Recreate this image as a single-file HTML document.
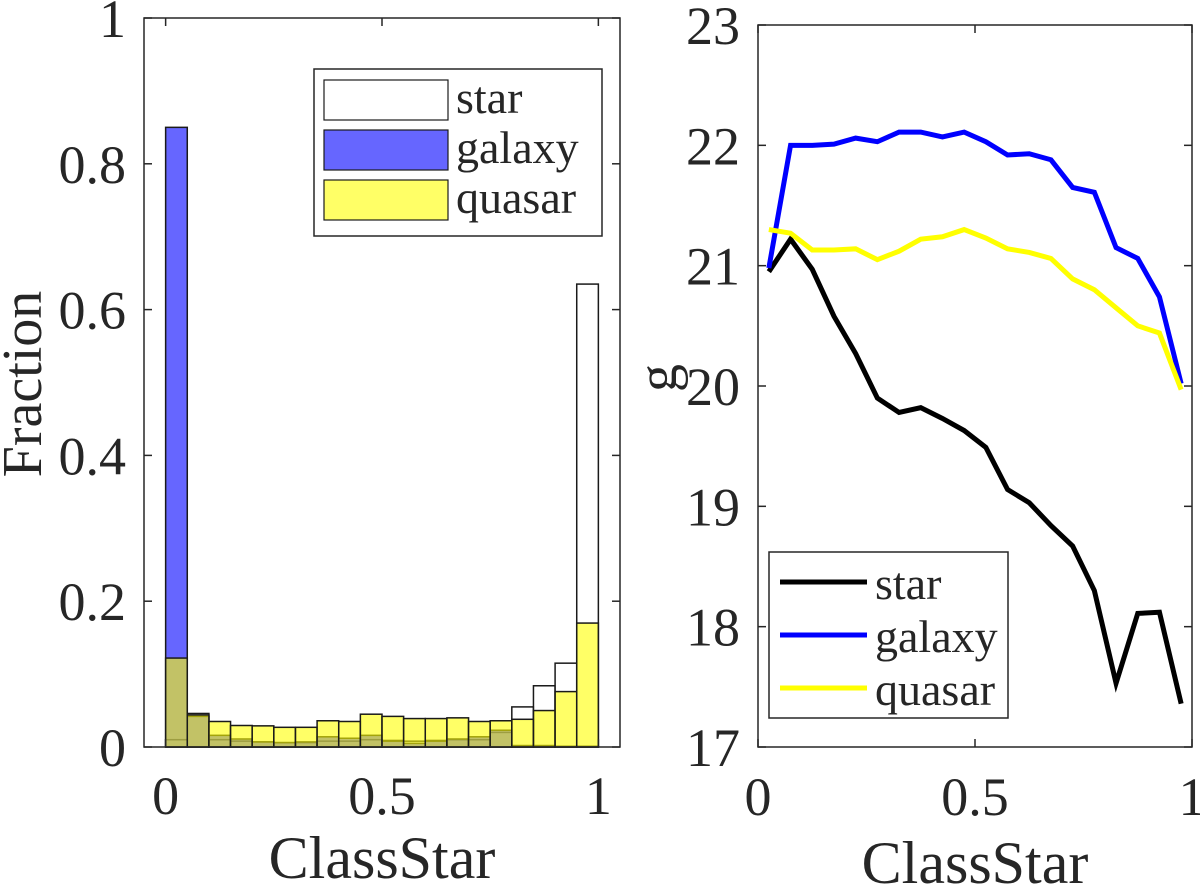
<!DOCTYPE html>
<html><head><meta charset="utf-8"><style>
body{margin:0;background:#fff}
svg text{font-family:"Liberation Serif",serif;fill:#262626}
</style></head><body>
<svg id="c" width="1200" height="889" xmlns="http://www.w3.org/2000/svg"></svg>
<script>
const binStarts=[0,0.05,0.1,0.15,0.2,0.25,0.3,0.35,0.4,0.45,0.5,0.55,0.6,0.65,0.7,0.75,0.8,0.85,0.9,0.95];
const starFrac=[0.01,0.046,0.01,0.008,0.007,0.006,0.006,0.008,0.008,0.01,0.009,0.008,0.009,0.01,0.01,0.02,0.055,0.084,0.115,0.635];
const galaxyFrac=[0.85,0.042,0.016,0.011,0.007,0.006,0.007,0.014,0.012,0.016,0.008,0.005,0.008,0.011,0.014,0.023,0.002,0.002,0.001,0.001];
const quasarFrac=[0.122,0.044,0.035,0.0295,0.029,0.027,0.027,0.036,0.035,0.045,0.042,0.039,0.039,0.040,0.035,0.036,0.038,0.050,0.076,0.170];
const leftYTicks=[0,0.2,0.4,0.6,0.8,1];
const leftYLabels=["0","0.2","0.4","0.6","0.8","1"];
const xTicks=[0,0.5,1];
const xLabels=["0","0.5","1"];
const centers=[0.025,0.075,0.125,0.175,0.225,0.275,0.325,0.375,0.425,0.475,0.525,0.575,0.625,0.675,0.725,0.775,0.825,0.875,0.925,0.975];
const starG=[20.95,21.22,20.97,20.58,20.27,19.9,19.78,19.82,19.73,19.63,19.49,19.14,19.03,18.84,18.67,18.3,17.53,18.11,18.12,17.36];
const galaxyG=[20.98,22.0,22.0,22.01,22.06,22.03,22.11,22.11,22.07,22.11,22.03,21.92,21.93,21.88,21.65,21.61,21.15,21.06,20.74,20.02];
const quasarG=[21.3,21.27,21.13,21.13,21.14,21.05,21.12,21.22,21.24,21.3,21.23,21.14,21.11,21.06,20.89,20.8,20.65,20.5,20.44,19.97];
const rightYTicks=[17,18,19,20,21,22,23];

const svg=document.getElementById('c');
const NS='http://www.w3.org/2000/svg';
function mk(tag,attrs,parent){const e=document.createElementNS(NS,tag);for(const k in attrs)e.setAttribute(k,attrs[k]);(parent||svg).appendChild(e);return e;}
const L={x0:144,x1:620,y0:747,y1:18};
const lx=v=>L.x0+(v+0.05)/1.1*(L.x1-L.x0);
const ly=v=>L.y0-v*(L.y0-L.y1);
const R={x0:758,x1:1192,y0:747,y1:25};
const rx=v=>R.x0+v*(R.x1-R.x0);
const ry=v=>R.y0-(v-17)/6*(R.y0-R.y1);
const FS=54;

const gL=mk('g',{});


function bars(arr,fill,op,name){
  arr.forEach((v,i)=>{
    const x=lx(binStarts[i]),w=lx(binStarts[i]+0.05)-x;
    const r=mk('rect',{x:x,y:ly(v),width:w,height:ly(0)-ly(v),fill:fill,'fill-opacity':op,stroke:'#1a1a1a','stroke-width':1.5},gL);
    
    
  });
}
bars(starFrac,'#ffffff',0.6,'star');
bars(galaxyFrac,'#0000ff',0.6,'galaxy');
bars(quasarFrac,'#ffff00',0.6,'quasar');
mk('rect',{x:L.x0,y:L.y1,width:L.x1-L.x0,height:L.y0-L.y1,fill:'none',stroke:'#262626','stroke-width':1.5},gL);
leftYTicks.forEach((t,i)=>{
  const y=ly(t);
  mk('line',{x1:L.x0,x2:L.x0+8,y1:y,y2:y,stroke:'#262626','stroke-width':1.5},gL);
  mk('line',{x1:L.x1,x2:L.x1-8,y1:y,y2:y,stroke:'#262626','stroke-width':1.5},gL);
  const t2=mk('text',{x:126,y:y+19,'font-size':FS,'text-anchor':'end'},gL);t2.textContent=leftYLabels[i];
  
  
});
xTicks.forEach((t,i)=>{
  const x=lx(t);
  mk('line',{x1:x,x2:x,y1:L.y0,y2:L.y0-8,stroke:'#262626','stroke-width':1.5},gL);
  mk('line',{x1:x,x2:x,y1:L.y1,y2:L.y1+8,stroke:'#262626','stroke-width':1.5},gL);
  const t2=mk('text',{x:x,y:814,'font-size':FS,'text-anchor':'middle'},gL);t2.textContent=xLabels[i];
  
  
});
let tt=mk('text',{x:382,y:878,'font-size':60,'text-anchor':'middle'},gL);tt.textContent='ClassStar';


tt=mk('text',{x:0,y:0,'font-size':56,'text-anchor':'middle',transform:'translate(41,384) rotate(-90)'},gL);tt.textContent='Fraction';


const lg=mk('g',{},gL);


mk('rect',{x:314,y:69,width:288,height:167,fill:'#fff',stroke:'#262626','stroke-width':1.5},lg);
[['star','#ffffff'],['galaxy','#6666ff'],['quasar','#ffff66']].forEach((e,i)=>{
  const y=80+i*50;
  mk('rect',{x:324,y:y,width:124,height:40,fill:e[1],stroke:'#1a1a1a','stroke-width':1.2},lg);
  const t=mk('text',{x:456,y:y+33,'font-size':46},lg);t.textContent=e[0];
  
  
});

const gR=mk('g',{});


mk('rect',{x:R.x0,y:R.y1,width:R.x1-R.x0,height:R.y0-R.y1,fill:'none',stroke:'#262626','stroke-width':1.5},gR);
rightYTicks.forEach(t=>{
  const y=ry(t);
  mk('line',{x1:R.x0,x2:R.x0+8,y1:y,y2:y,stroke:'#262626','stroke-width':1.5},gR);
  mk('line',{x1:R.x1,x2:R.x1-8,y1:y,y2:y,stroke:'#262626','stroke-width':1.5},gR);
  const t2=mk('text',{x:740,y:y+19,'font-size':FS,'text-anchor':'end'},gR);t2.textContent=String(t);
  
  
});
xTicks.forEach((t,i)=>{
  const x=rx(t);
  mk('line',{x1:x,x2:x,y1:R.y0,y2:R.y0-8,stroke:'#262626','stroke-width':1.5},gR);
  mk('line',{x1:x,x2:x,y1:R.y1,y2:R.y1+8,stroke:'#262626','stroke-width':1.5},gR);
  const t2=mk('text',{x:x,y:815,'font-size':FS,'text-anchor':'middle'},gR);t2.textContent=xLabels[i];
  
  
});
tt=mk('text',{x:975,y:883,'font-size':60,'text-anchor':'middle'},gR);tt.textContent='ClassStar';


tt=mk('text',{x:0,y:0,'font-size':56,'text-anchor':'middle',transform:'translate(676,378) rotate(-90)'},gR);tt.textContent='g';


function line(arr,color,name){
  const p=mk('polyline',{points:arr.map((v,i)=>rx(centers[i])+','+ry(v)).join(' '),fill:'none',stroke:color,'stroke-width':5},gR);
  
  
}
line(starG,'#000000','star-line');
line(galaxyG,'#0000ff','galaxy-line');
line(quasarG,'#ffff00','quasar-line');
const rg=mk('g',{},gR);


mk('rect',{x:769,y:552,width:239,height:166,fill:'#fff',stroke:'#262626','stroke-width':1.5},rg);
[['star','#000000'],['galaxy','#0000ff'],['quasar','#ffff00']].forEach((e,i)=>{
  const y=582+i*53;
  mk('line',{x1:780,x2:867,y1:y,y2:y,stroke:e[1],'stroke-width':5},rg);
  const t=mk('text',{x:875,y:y+17,'font-size':46},rg);t.textContent=e[0];
  
  
});
</script>
</body></html>
